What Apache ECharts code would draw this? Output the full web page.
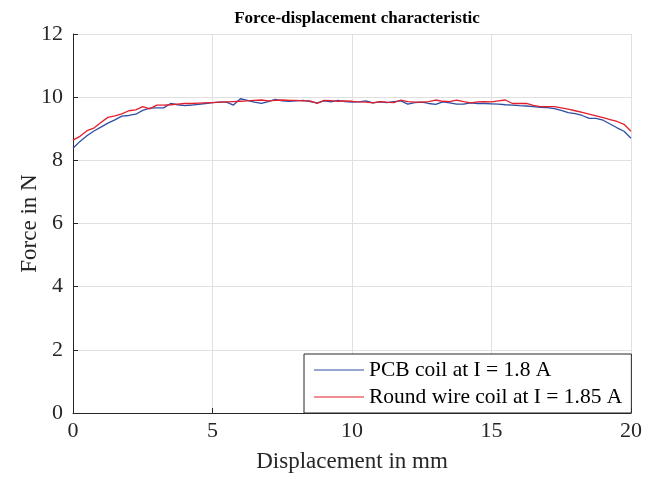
<!DOCTYPE html>
<html><head><meta charset="utf-8">
<script src="https://cdn.jsdelivr.net/npm/echarts@6/dist/echarts.min.js"></script>
<style>html,body{margin:0;padding:0;background:#fff}#c{width:657px;height:479px}</style>
</head><body><div id="c"></div>
<script>
const displacement = [0,0.25,0.5,0.75,1,1.25,1.5,1.75,2,2.25,2.5,2.75,3,3.25,3.5,3.75,4,4.25,4.5,4.75,5,5.25,5.5,5.75,6,6.25,6.5,6.75,7,7.25,7.5,7.75,8,8.25,8.5,8.75,9,9.25,9.5,9.75,10,10.25,10.5,10.75,11,11.25,11.5,11.75,12,12.25,12.5,12.75,13,13.25,13.5,13.75,14,14.25,14.5,14.75,15,15.25,15.5,15.75,16,16.25,16.5,16.75,17,17.25,17.5,17.75,18,18.25,18.5,18.75,19,19.25,19.5,19.75,20];
const pcbForce = [8.38,8.60,8.78,8.93,9.05,9.18,9.28,9.40,9.42,9.46,9.58,9.65,9.66,9.66,9.80,9.76,9.73,9.75,9.77,9.80,9.83,9.84,9.84,9.75,9.95,9.90,9.84,9.80,9.86,9.93,9.88,9.87,9.88,9.90,9.86,9.82,9.88,9.85,9.90,9.86,9.84,9.85,9.88,9.82,9.85,9.83,9.86,9.88,9.78,9.83,9.84,9.80,9.77,9.85,9.82,9.78,9.78,9.82,9.80,9.80,9.79,9.78,9.76,9.75,9.73,9.72,9.70,9.68,9.67,9.64,9.58,9.51,9.48,9.42,9.33,9.33,9.27,9.15,9.03,8.92,8.70];
const roundForce = [8.64,8.76,8.94,9.02,9.20,9.36,9.41,9.47,9.57,9.60,9.70,9.63,9.75,9.75,9.76,9.78,9.80,9.80,9.81,9.82,9.83,9.84,9.85,9.86,9.87,9.88,9.90,9.91,9.88,9.90,9.91,9.90,9.90,9.88,9.88,9.80,9.90,9.89,9.87,9.88,9.87,9.85,9.84,9.82,9.86,9.84,9.83,9.91,9.86,9.84,9.84,9.86,9.91,9.87,9.86,9.91,9.86,9.82,9.85,9.86,9.85,9.88,9.91,9.80,9.80,9.80,9.74,9.70,9.70,9.70,9.66,9.62,9.57,9.52,9.46,9.41,9.35,9.29,9.23,9.14,8.92];
const seriesNames = ['PCB coil at I = 1.8 A','Round wire coil at I = 1.85 A'];

const font = 'Liberation Serif, Times New Roman, serif';
const chart = echarts.init(document.getElementById('c'));
chart.setOption({
  animation:false,
  title:{text:'Force-displacement characteristic',left:352,top:5,textAlign:'center',
    textStyle:{fontFamily:font,fontSize:17,fontWeight:'bold',color:'#000'}},
  grid:{left:73,right:26,top:34,bottom:66,containLabel:false,outerBoundsMode:'none'},
  legend:{left:304,top:354,orient:'vertical',icon:'rect',itemWidth:50,itemHeight:1.2,itemGap:3,
    backgroundColor:'#fff',borderColor:'#262626',borderWidth:1,borderRadius:0,padding:[4,9,4,10],
    textStyle:{fontFamily:font,fontSize:21.5,lineHeight:24,color:'#000'},data:seriesNames},
  xAxis:{type:'value',min:0,max:20,interval:5,name:'Displacement in mm',nameLocation:'middle',nameGap:37,nameMoveOverlap:false,
    nameTextStyle:{fontFamily:font,fontSize:23,color:'#262626'},
    axisLine:{show:true,lineStyle:{color:'#262626',width:1}},
    axisTick:{show:true,inside:true,length:5,lineStyle:{color:'#262626'}},
    axisLabel:{fontFamily:font,fontSize:22,color:'#262626',margin:7},
    splitLine:{show:true,lineStyle:{color:'#e0e0e0',width:1}}},
  yAxis:{type:'value',min:0,max:12,interval:2,name:'Force in N',nameLocation:'middle',nameGap:32,nameMoveOverlap:false,
    nameTextStyle:{fontFamily:font,fontSize:23,color:'#262626'},
    axisLine:{show:true,lineStyle:{color:'#262626',width:1}},
    axisTick:{show:true,inside:true,length:5,lineStyle:{color:'#262626'}},
    axisLabel:{fontFamily:font,fontSize:22,color:'#262626',margin:10},
    splitLine:{show:true,lineStyle:{color:'#e0e0e0',width:1}}},
  series:[
    {name:seriesNames[0],type:'line',showSymbol:false,symbol:'none',data:displacement.map((d,i)=>[d,pcbForce[i]]),
      lineStyle:{color:'#2d4fa5',width:1.3},itemStyle:{color:'#2d4fa5'}},
    {name:seriesNames[1],type:'line',showSymbol:false,symbol:'none',data:displacement.map((d,i)=>[d,roundForce[i]]),
      lineStyle:{color:'#e41e2b',width:1.3},itemStyle:{color:'#e41e2b'}}
  ]
});
</script></body></html>
